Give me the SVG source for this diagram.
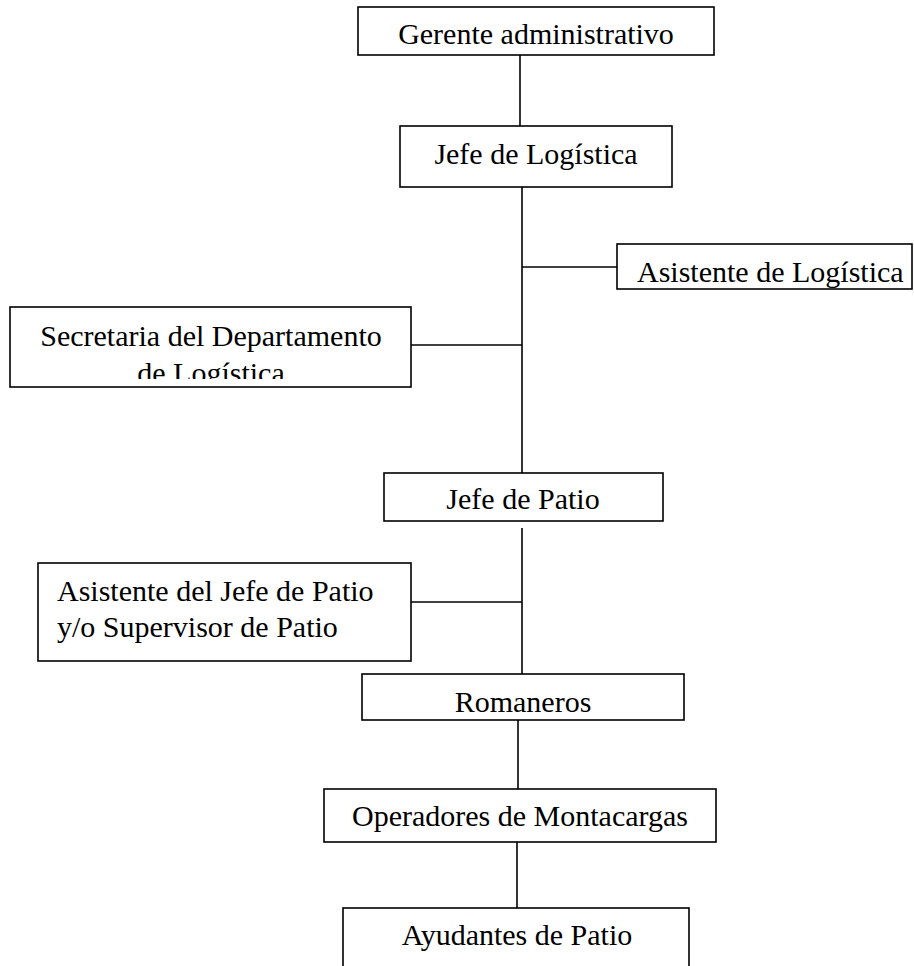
<svg xmlns="http://www.w3.org/2000/svg" width="914" height="966" viewBox="0 0 914 966">
<style>
.box{fill:#fff;stroke:#000;stroke-width:1.6}
.ln{stroke:#000;stroke-width:1.6;fill:none}
text{font-family:"Liberation Serif","Times New Roman",serif;font-size:30px;fill:#000}
.c{text-anchor:middle}
</style>
<defs>
<clipPath id="clipSec"><rect x="10" y="308" width="401" height="71"/></clipPath>
<clipPath id="clipAsis"><rect x="617" y="244" width="297" height="45"/></clipPath>
<clipPath id="clipAyu"><rect x="343" y="908" width="346" height="58"/></clipPath>
</defs>
<rect width="914" height="966" fill="#fff"/>
<g id="connectors">
<line class="ln" x1="520" y1="55" x2="520" y2="126"/>
<line class="ln" x1="522" y1="187" x2="522" y2="473"/>
<line class="ln" x1="522" y1="267" x2="617" y2="267"/>
<line class="ln" x1="411" y1="345" x2="522" y2="345"/>
<line class="ln" x1="522" y1="528" x2="522" y2="674"/>
<line class="ln" x1="411" y1="602" x2="522" y2="602"/>
<line class="ln" x1="518" y1="720" x2="518" y2="789"/>
<line class="ln" x1="517" y1="838" x2="517" y2="908"/>
</g>
<g id="gerente">
<rect class="box" x="358" y="7" width="356" height="48"/>
<text class="c" x="536" y="44">Gerente administrativo</text>
</g>
<g id="jefe-logistica">
<rect class="box" x="400" y="126" width="272" height="61"/>
<text class="c" x="536" y="164">Jefe de Logística</text>
</g>
<g id="asistente-logistica">
<rect class="box" x="617" y="244" width="295" height="45"/>
<text x="637" y="282" clip-path="url(#clipAsis)">Asistente de Logística</text>
</g>
<g id="secretaria">
<rect class="box" x="10" y="307" width="401" height="80"/>
<g clip-path="url(#clipSec)">
<text class="c" x="211" y="346">Secretaria del Departamento</text>
<text class="c" x="211" y="383">de Logística</text>
</g>
</g>
<g id="jefe-patio">
<rect class="box" x="384" y="473" width="279" height="48"/>
<text class="c" x="523" y="509">Jefe de Patio</text>
</g>
<g id="asistente-jefe-patio">
<rect class="box" x="38" y="563" width="373" height="98"/>
<text x="57" y="601">Asistente del Jefe de Patio</text>
<text x="57" y="637">y/o Supervisor de Patio</text>
</g>
<g id="romaneros">
<rect class="box" x="362" y="674" width="322" height="46"/>
<text class="c" x="523" y="712">Romaneros</text>
</g>
<g id="operadores">
<rect class="box" x="324" y="789" width="392" height="53"/>
<text class="c" x="520" y="826">Operadores de Montacargas</text>
</g>
<g id="ayudantes">
<rect class="box" x="343" y="908" width="346" height="70"/>
<text class="c" x="517" y="945" clip-path="url(#clipAyu)">Ayudantes de Patio</text>
</g>
</svg>
